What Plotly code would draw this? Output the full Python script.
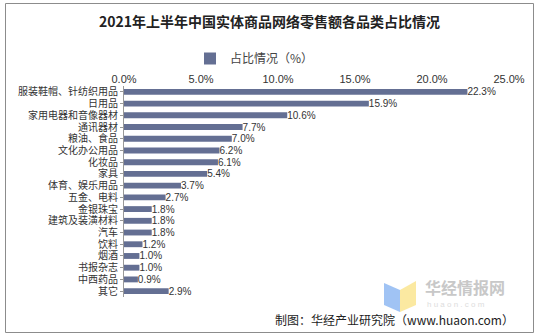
import plotly.graph_objects as go

categories = ["服装鞋帽、针纺织用品", "日用品", "家用电器和音像器材", "通讯器材", "粮油、食品",
              "文化办公用品", "化妆品", "家具", "体育、娱乐用品", "五金、电料", "金银珠宝",
              "建筑及装潢材料", "汽车", "饮料", "烟酒", "书报杂志", "中西药品", "其它"]
values = [22.3, 15.9, 10.6, 7.7, 7.0, 6.2, 6.1, 5.4, 3.7, 2.7, 1.8, 1.8, 1.8, 1.2, 1.0, 1.0, 0.9, 2.9]
tick_vals = [0, 5, 10, 15, 20, 25]
tick_text = ["0.0%", "5.0%", "10.0%", "15.0%", "20.0%", "25.0%"]
series_name = "占比情况（%）"
title_text = "2021年上半年中国实体商品网络零售额各品类占比情况"
source_text = "制图：华经产业研究院（www.huaon.com）"

W, H = 539, 336
L, R, T, B = 124, 509, 86, 297
FONT = "Noto Sans CJK SC"
MIX = "Liberation Sans, Noto Sans CJK SC"

def px(x):
    return (x - L) / (R - L)

def py(y):
    return (B - y) / (B - T)

fig = go.Figure()
fig.add_trace(go.Bar(
    y=categories, x=values, orientation="h", name=series_name,
    marker=dict(color="#646f93", line=dict(width=0)),
    text=[f"{v:.1f}%" for v in values], textposition="outside", cliponaxis=False,
    constraintext="none",
    textfont=dict(size=10, color="#333333", family="Liberation Sans"),
))

fig.update_layout(
    width=W, height=H,
    margin=dict(l=L, r=W - R, t=T, b=H - B),
    paper_bgcolor="white", plot_bgcolor="white",
    bargap=0.5,
    showlegend=True,
    legend=dict(orientation="h", x=px(190), y=py(44), xanchor="left", yanchor="top",
                font=dict(size=12, color="#444444", family=FONT),
                itemwidth=30, bgcolor="rgba(0,0,0,0)"),
    title=dict(text="<b>" + title_text + "</b>",
               y=1 - 22 / H, yanchor="middle", xanchor="center",
               font=dict(size=14, color="#222222", family=FONT)),
    xaxis=dict(side="top", range=[0, 25], tickvals=tick_vals, ticktext=tick_text,
               showgrid=False, zeroline=False, showline=False, ticks="",
               tickfont=dict(size=11, color="#333333", family="Liberation Sans")),
    yaxis=dict(autorange="reversed", showgrid=False, zeroline=False, showline=True,
               tickmode="array", tickvals=categories, ticktext=categories,
               linecolor="#999999", linewidth=1, ticks="outside", ticklen=3,
               tickcolor="#999999",
               tickfont=dict(size=10, color="#333333", family=MIX)),
    font=dict(family=FONT),
)
fig.update_layout(title_x=(W / 2 - L) / (R - L), title_xref="paper")

# outer border
fig.add_shape(type="rect", xref="paper", yref="paper",
              x0=px(5.5), x1=px(533.5), y0=py(332.5), y1=py(3.5),
              line=dict(color="#8c8c8c", width=1), fillcolor="rgba(0,0,0,0)", layer="below")

# watermark icon
fig.add_shape(type="path", xref="paper", yref="paper",
              path=f"M {px(384)} {py(283)} L {px(400)} {py(290)} L {px(400)} {py(312)} L {px(384)} {py(305)} Z",
              fillcolor="rgba(120,170,240,0.7)", line=dict(width=0))
fig.add_shape(type="path", xref="paper", yref="paper",
              path=f"M {px(400)} {py(290)} L {px(416)} {py(281)} L {px(416)} {py(305)} L {px(400)} {py(312)} Z",
              fillcolor="rgba(250,225,130,0.75)", line=dict(width=0))
fig.add_annotation(text="<b>华经情报网</b>", xref="paper", yref="paper", x=px(423), y=py(286.5),
                   xanchor="left", yanchor="middle", showarrow=False,
                   font=dict(size=16, color="#c8c8c8", family=FONT))
fig.add_annotation(text="h u a o n . c o m", xref="paper", yref="paper", x=px(425), y=py(304),
                   xanchor="left", yanchor="middle", showarrow=False,
                   font=dict(size=8, color="#dddddd", family="Liberation Sans"))
fig.add_annotation(text=source_text, xref="paper", yref="paper", x=px(516), y=py(319.5),
                   xanchor="right", yanchor="middle", showarrow=False,
                   font=dict(size=12, color="#222222", family=FONT))

fig.write_html("out.html")
